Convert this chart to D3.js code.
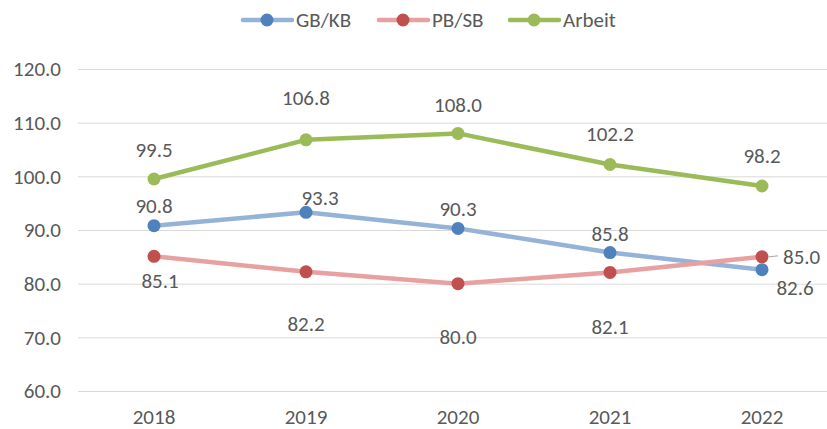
<!DOCTYPE html>
<html>
<head>
<meta charset="utf-8">
<script src="https://cdn.jsdelivr.net/npm/d3@7"></script>
<style>
  body { margin: 0; background: #fff; }
  svg text { font-family: "Carlito", "Lato", "Open Sans", sans-serif; fill: #595959; }
</style>
</head>
<body>
<svg id="chart" width="827" height="429"></svg>
<script>
const years = ["2018", "2019", "2020", "2021", "2022"];
const gbkb = [90.8, 93.3, 90.3, 85.8, 82.6];
const pbsb = [85.1, 82.2, 80.0, 82.1, 85.0];
const arbeit = [99.5, 106.8, 108.0, 102.2, 98.2];
const yTicks = [60, 70, 80, 90, 100, 110, 120];

// label offsets (dx, dy) relative to the point, adjusted like in the original
const series = [
  { name: "GB/KB", values: gbkb, line: "#95b3d7", dot: "#4f81bd",
    offs: [[0, -20], [14, -15], [0, -20], [0, -19], [33, 18]] },
  { name: "PB/SB", values: pbsb, line: "#e6a1a0", dot: "#c0504d",
    offs: [[6, 24], [0, 52], [0, 53], [0, 54], [21, 0]] },
  { name: "Arbeit", values: arbeit, line: "#9bbb59", dot: "#9bbb59",
    offs: [[0, -29], [0, -42], [0, -29], [0, -31], [0, -30]] }
];

const svg = d3.select("#chart");
const width = 827, height = 429;
const fs = "21px";

const x = d3.scaleBand().domain(years).range([78, 838]);
const y = d3.scaleLinear().domain([60, 120]).range([391, 69]);
const cx = (i) => x(years[i]) + x.bandwidth() / 2;

// gridlines
svg.append("g")
  .selectAll("line")
  .data(yTicks)
  .join("line")
  .attr("x1", 78)
  .attr("x2", width)
  .attr("y1", (d) => y(d) + 0.5)
  .attr("y2", (d) => y(d) + 0.5)
  .attr("stroke", "#d9d9d9")
  .attr("stroke-width", 1);

// y axis labels
svg.append("g")
  .selectAll("text")
  .data(yTicks)
  .join("text")
  .attr("x", 61)
  .attr("y", (d) => y(d))
  .attr("dy", "0.35em")
  .attr("text-anchor", "end")
  .attr("font-size", fs)
  .text((d) => d.toFixed(1));

// x axis labels
svg.append("g")
  .selectAll("text")
  .data(years)
  .join("text")
  .attr("x", (d) => x(d) + x.bandwidth() / 2)
  .attr("y", 424)
  .attr("text-anchor", "middle")
  .attr("font-size", fs)
  .text((d) => d);

const line = d3.line()
  .x((d, i) => cx(i))
  .y((d) => y(d));

series.forEach((s) => {
  const g = svg.append("g");
  g.append("path")
    .datum(s.values)
    .attr("d", line)
    .attr("fill", "none")
    .attr("stroke", s.line)
    .attr("stroke-width", 4.5)
    .attr("stroke-linejoin", "round")
    .attr("stroke-linecap", "round");

  g.selectAll("circle")
    .data(s.values)
    .join("circle")
    .attr("cx", (d, i) => cx(i))
    .attr("cy", (d) => y(d))
    .attr("r", 6.5)
    .attr("fill", s.dot);
});

// data labels drawn on top
series.forEach((s) => {
  svg.append("g")
    .selectAll("text")
    .data(s.values)
    .join("text")
    .attr("x", (d, i) => cx(i) + s.offs[i][0])
    .attr("y", (d, i) => y(d) + s.offs[i][1])
    .attr("dy", "0.35em")
    .attr("text-anchor", (d, i) => (s.name === "PB/SB" && i === 4 ? "start" : "middle"))
    .attr("font-size", fs)
    .text((d) => d.toFixed(1));
});

// leader line for PB/SB 2022 label
svg.append("line")
  .attr("x1", cx(4) + 7)
  .attr("x2", cx(4) + 16)
  .attr("y1", y(pbsb[4]))
  .attr("y2", y(pbsb[4]) - 1)
  .attr("stroke", "#a6a6a6")
  .attr("stroke-width", 1);

// legend
const legendX = [241, 377, 508];
const legend = svg.append("g")
  .selectAll("g")
  .data(series)
  .join("g")
  .attr("transform", (d, i) => `translate(${legendX[i]},20)`);

legend.append("line")
  .attr("x1", 2).attr("x2", 51)
  .attr("y1", 0).attr("y2", 0)
  .attr("stroke", (d) => d.line)
  .attr("stroke-width", 4.5)
  .attr("stroke-linecap", "round");

legend.append("circle")
  .attr("cx", 26).attr("cy", 0).attr("r", 6.5)
  .attr("fill", (d) => d.dot);

legend.append("text")
  .attr("x", 55)
  .attr("y", 0)
  .attr("dy", "0.35em")
  .attr("font-size", fs)
  .text((d) => d.name);
</script>
</body>
</html>
